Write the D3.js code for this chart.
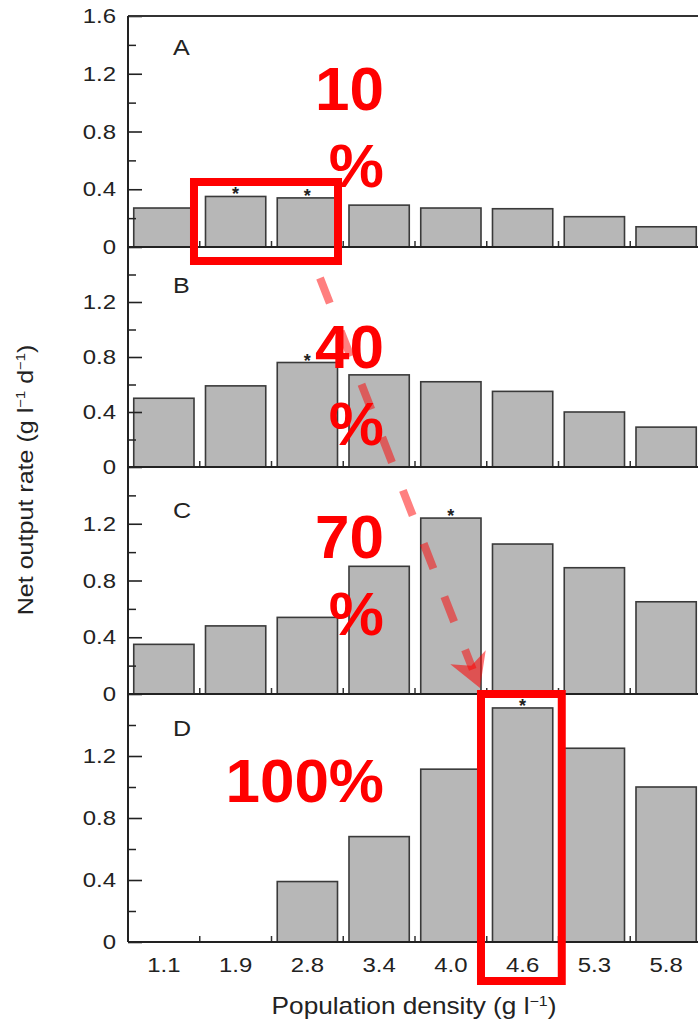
<!DOCTYPE html>
<html>
<head>
<meta charset="utf-8">
<script src="https://cdn.jsdelivr.net/npm/d3@7"></script>
<style>
  html, body { margin: 0; padding: 0; background: #fff; }
  svg { display: block; }
  text { font-family: "Liberation Sans", Arial, Helvetica, sans-serif; }
</style>
</head>
<body>
<div id="chart"></div>
<script>
// ---------------- data ----------------
const categories = ["1.1", "1.9", "2.8", "3.4", "4.0", "4.6", "5.3", "5.8"];
const panelA = [0.27, 0.35, 0.34, 0.29, 0.27, 0.265, 0.21, 0.14];
const panelB = [0.50, 0.59, 0.76, 0.67, 0.62, 0.55, 0.40, 0.29];
const panelC = [0.35, 0.48, 0.54, 0.90, 1.24, 1.057, 0.89, 0.65];
const panelD = [0, 0, 0.39, 0.68, 1.115, 1.51, 1.25, 1.0];
const panelLabels = ["A", "B", "C", "D"];
const significant = [["1.9", "2.8"], ["2.8"], ["4.0"], ["4.6"]];
const majorTicks = [0, 0.4, 0.8, 1.2, 1.6];
const minorTicks = [0.2, 0.6, 1.0, 1.4];
const percentLabels = [["10", "%"], ["40", "%"], ["70", "%"], ["100%"]];
const yTitle = "Net output rate";
const xTitle = "Population density";

// ---------------- layout ----------------
const W = 698, H = 1020;
const left = 128, right = 702;
const panelBounds = [[16, 247], [247, 467], [467, 694], [694, 942]];
const labelOffset = [39, 46, 51, 42];
const percentBaselines = [[110, 187], [368, 445], [558, 635], [802]];
const stretch = 1.14;

const svg = d3.select("#chart").append("svg")
  .attr("width", W).attr("height", H);

const x = d3.scaleBand().domain(categories).range([left, right])
  .paddingInner(0.16).paddingOuter(0.08);

const allPanels = [panelA, panelB, panelC, panelD];

allPanels.forEach((vals, i) => {
  const [top, bottom] = panelBounds[i];
  const y = d3.scaleLinear().domain([0, 1.6]).range([bottom, top]);
  const g = svg.append("g");
  const data = categories.map((c, k) => ({ c, v: vals[k] }));

  // bars
  g.selectAll("rect.bar").data(data.filter(d => d.v > 0)).join("rect")
    .attr("class", "bar")
    .attr("x", d => x(d.c))
    .attr("width", x.bandwidth())
    .attr("y", d => y(d.v))
    .attr("height", d => y(0) - y(d.v))
    .attr("fill", "#b7b7b7")
    .attr("stroke", "#3a3a3a")
    .attr("stroke-width", 1.6);

  // significance asterisks
  g.selectAll("text.star").data(data.filter(d => significant[i].includes(d.c))).join("text")
    .attr("class", "star")
    .attr("x", d => x(d.c) + x.bandwidth() / 2)
    .attr("y", d => y(d.v) + 4)
    .attr("text-anchor", "middle")
    .attr("font-size", 18)
    .attr("font-weight", "bold")
    .attr("fill", "#222")
    .text("*");

  // small ticks between bars along the baseline
  const step = x.step();
  const bounds = categories.slice(1).map(c => x(c) - step * 0.08);
  g.selectAll("line.xt").data(bounds).join("line")
    .attr("x1", d => d).attr("x2", d => d)
    .attr("y1", y(0)).attr("y2", y(0) - 6)
    .attr("stroke", "#333").attr("stroke-width", 1.5);

  // baseline
  g.append("line")
    .attr("x1", left).attr("x2", W).attr("y1", y(0)).attr("y2", y(0))
    .attr("stroke", "#222").attr("stroke-width", 2);

  // y axis (major, inward ticks, labels)
  const tv = i === 0 ? majorTicks : majorTicks.filter(t => t < 1.6);
  const ax = g.append("g").attr("transform", `translate(${left},0)`)
    .call(d3.axisLeft(y).tickValues(tv).tickSizeInner(-14).tickSizeOuter(0)
      .tickPadding(12).tickFormat(d => d === 0 ? "0" : d3.format(".1f")(d)));
  ax.select(".domain").remove();
  ax.selectAll(".tick line").attr("stroke", "#222").attr("stroke-width", 1.6);
  ax.selectAll(".tick text")
    .attr("x", -12 / stretch)
    .attr("transform", `scale(${stretch},1)`)
    .attr("font-size", 21)
    .attr("fill", "#222")
    .attr("font-family", "'Liberation Sans', Arial, sans-serif");

  // minor ticks
  const mx = g.append("g").attr("transform", `translate(${left},0)`)
    .call(d3.axisLeft(y).tickValues(minorTicks).tickSizeInner(-8).tickSizeOuter(0).tickFormat(""));
  mx.select(".domain").remove();
  mx.selectAll(".tick line").attr("stroke", "#222").attr("stroke-width", 1.5);

  // panel label
  g.append("g").attr("transform", `translate(173,${top + labelOffset[i]})`)
    .append("text")
    .attr("transform", `scale(${stretch},1)`)
    .attr("font-size", 22)
    .attr("fill", "#222")
    .text(panelLabels[i]);
});

// top border & left axis line
svg.append("line").attr("x1", left).attr("x2", W)
  .attr("y1", panelBounds[0][0]).attr("y2", panelBounds[0][0])
  .attr("stroke", "#333").attr("stroke-width", 2);
svg.append("line").attr("x1", left).attr("x2", left)
  .attr("y1", panelBounds[0][0]).attr("y2", panelBounds[3][1])
  .attr("stroke", "#222").attr("stroke-width", 2);

// x axis labels
const xb = svg.append("g").attr("transform", `translate(0,${panelBounds[3][1]})`)
  .call(d3.axisBottom(x).tickSize(0).tickPadding(15));
xb.select(".domain").remove();
xb.selectAll(".tick text")
  .attr("transform", `scale(${stretch},1)`)
  .attr("font-size", 21)
  .attr("fill", "#222")
  .attr("font-family", "'Liberation Sans', Arial, sans-serif");

// x title
const xt = svg.append("g").attr("transform", "translate(414,1014)")
  .append("text").attr("transform", `scale(${stretch},1)`)
  .attr("text-anchor", "middle").attr("font-size", 23).attr("fill", "#222");
xt.append("tspan").text(xTitle + " (g l");
xt.append("tspan").attr("dy", -8).attr("font-size", 14).text("\u22121");
xt.append("tspan").attr("dy", 8).text(")");

// y title
const yt = svg.append("g").attr("transform", "translate(33,480) rotate(-90)")
  .append("text").attr("transform", `scale(${stretch},1)`)
  .attr("text-anchor", "middle").attr("font-size", 22).attr("fill", "#222");
yt.append("tspan").text(yTitle + " (g l");
yt.append("tspan").attr("dy", -8).attr("font-size", 13).text("\u22121");
yt.append("tspan").attr("dy", 8).text(" d");
yt.append("tspan").attr("dy", -8).attr("font-size", 13).text("\u22121");
yt.append("tspan").attr("dy", 8).text(")");

// ---------------- annotations ----------------
const yA = d3.scaleLinear().domain([0, 1.6]).range(panelBounds[0].slice().reverse());
const box1 = { x0: x("1.9") - 11.5, x1: x("2.8") + x.bandwidth() + 0.5, y0: 182, y1: 261 };
const box2 = { x0: x("4.6") - 11.5, x1: x("4.6") + x.bandwidth() + 9, y0: 694, y1: 981 };
[box1, box2].forEach(b => {
  svg.append("rect")
    .attr("x", b.x0).attr("y", b.y0)
    .attr("width", b.x1 - b.x0).attr("height", b.y1 - b.y0)
    .attr("fill", "none").attr("stroke", "#ff0000").attr("stroke-width", 8);
});

// dashed arrow
const start = [320, 278], tip = [480, 688];
const ddx = tip[0] - start[0], ddy = tip[1] - start[1];
const L = Math.hypot(ddx, ddy);
const ux = ddx / L, uy = ddy / L, nx = -uy, ny = ux;
const lineEnd = L - 20;
svg.append("line")
  .attr("x1", start[0]).attr("y1", start[1])
  .attr("x2", start[0] + ux * lineEnd).attr("y2", start[1] + uy * lineEnd)
  .attr("stroke", "#ff0000").attr("stroke-opacity", 0.5)
  .attr("stroke-width", 8).attr("stroke-dasharray", "27,30");
const headLen = 33, headW = 19, notch = 24;
const head = [
  tip,
  [tip[0] - ux * headLen + nx * headW, tip[1] - uy * headLen + ny * headW],
  [tip[0] - ux * notch, tip[1] - uy * notch],
  [tip[0] - ux * headLen - nx * headW, tip[1] - uy * headLen - ny * headW]
];
svg.append("path")
  .attr("d", d3.line()(head) + "Z")
  .attr("fill", "#ff0000").attr("fill-opacity", 0.55);

// percentage labels
percentLabels.forEach((lines, i) => {
  lines.forEach((t, j) => {
    svg.append("text")
      .attr("x", 384).attr("y", percentBaselines[i][j])
      .attr("text-anchor", "end")
      .attr("font-size", 62).attr("font-weight", "bold")
      .attr("fill", "#ff0000")
      .text(t);
  });
});
</script>
</body>
</html>
